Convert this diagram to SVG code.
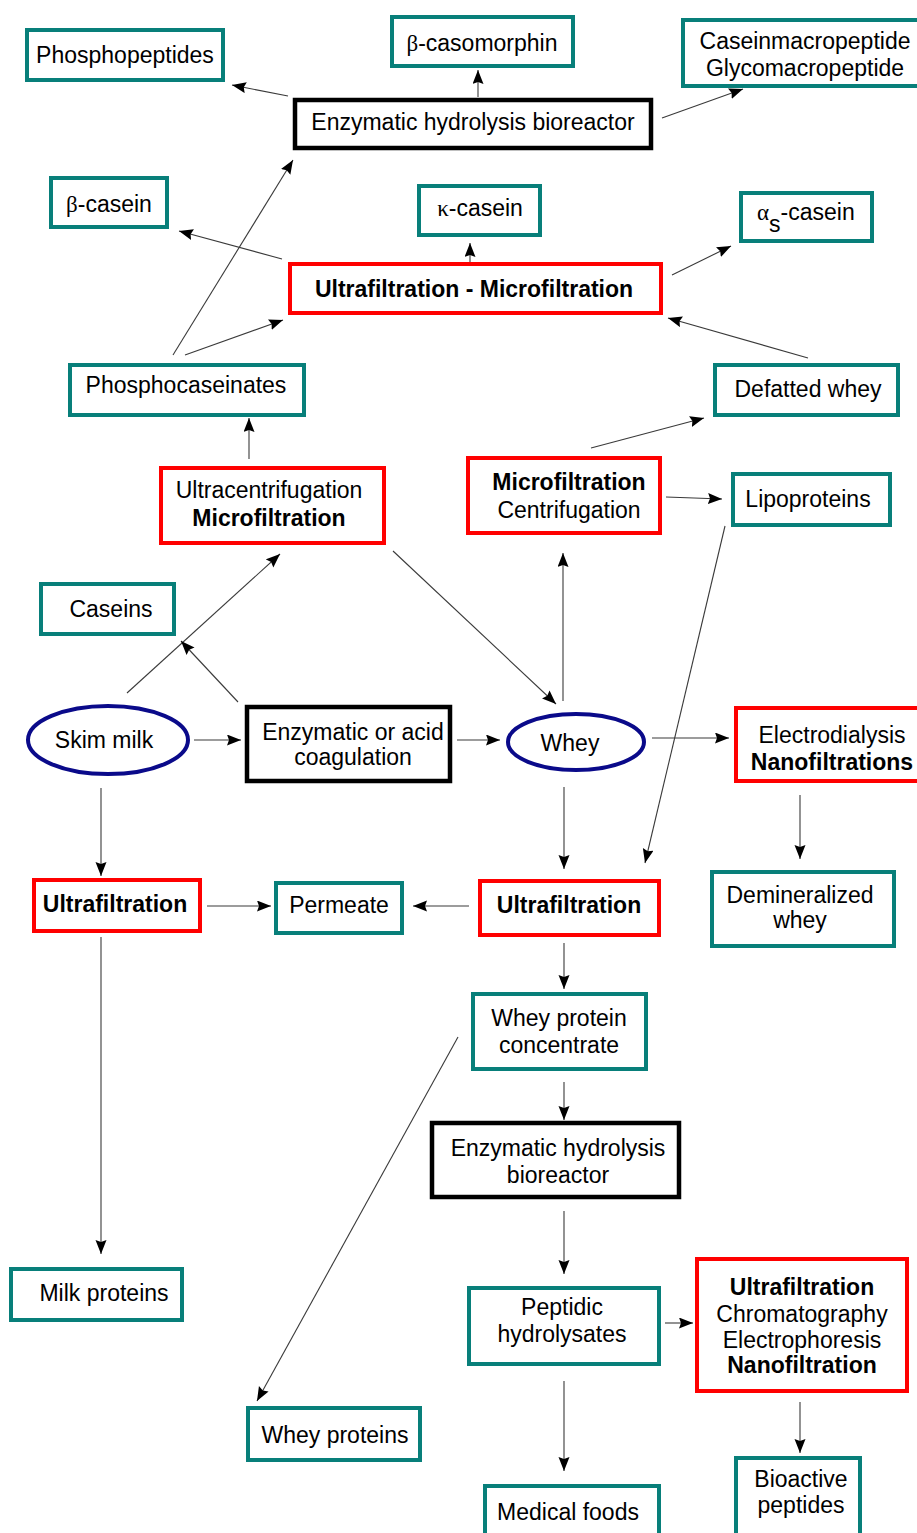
<svg xmlns="http://www.w3.org/2000/svg" width="917" height="1533" viewBox="0 0 917 1533">
<style>
text{font-family:"Liberation Sans",Arial,sans-serif;font-size:23px;fill:#000;text-anchor:middle}
.b{font-weight:bold}
.g{font-family:"Liberation Serif","Times New Roman",serif}
.teal{fill:#fff;stroke:#087f7a;stroke-width:4}
.red{fill:#fff;stroke:#ff0000;stroke-width:4}
.blk{fill:#fff;stroke:#000;stroke-width:4.5}
.ell{fill:#fff;stroke:#0a0a8a;stroke-width:4}
.c line{stroke:#3a3a3a;stroke-width:1.1;marker-end:url(#ah)}
</style>
<defs>
<marker id="ah" markerUnits="userSpaceOnUse" markerWidth="15" markerHeight="12" refX="14" refY="5.5" orient="auto">
<path d="M0,0 L14,5.5 L0,11 L2,5.5 z" fill="#000"/>
</marker>
</defs>
<rect width="917" height="1533" fill="#fff"/>

<g class="c" id="connectors">
<line x1="288" y1="96" x2="232" y2="85"/>
<line x1="478" y1="97" x2="478" y2="70"/>
<line x1="662" y1="118" x2="743" y2="89"/>
<line x1="173" y1="355" x2="293" y2="160"/>
<line x1="185" y1="355" x2="283" y2="320"/>
<line x1="282" y1="259" x2="179" y2="231"/>
<line x1="470" y1="262" x2="470" y2="243"/>
<line x1="672" y1="275" x2="731" y2="246"/>
<line x1="808" y1="358" x2="668" y2="318"/>
<line x1="249" y1="459" x2="249" y2="418"/>
<line x1="127" y1="693" x2="280" y2="554"/>
<line x1="238" y1="702" x2="181" y2="641"/>
<line x1="393" y1="551" x2="556" y2="704"/>
<line x1="563" y1="701" x2="563" y2="553"/>
<line x1="591" y1="448" x2="704" y2="418"/>
<line x1="666" y1="497" x2="722" y2="499"/>
<line x1="725" y1="526" x2="645" y2="863"/>
<line x1="194" y1="740" x2="241" y2="740"/>
<line x1="457" y1="740" x2="500" y2="740"/>
<line x1="652" y1="738" x2="729" y2="738"/>
<line x1="101" y1="788" x2="101" y2="876"/>
<line x1="207" y1="906" x2="271" y2="906"/>
<line x1="469" y1="906" x2="413" y2="906"/>
<line x1="564" y1="787" x2="564" y2="869"/>
<line x1="800" y1="795" x2="800" y2="859"/>
<line x1="564" y1="943" x2="564" y2="989"/>
<line x1="564" y1="1082" x2="564" y2="1120"/>
<line x1="458" y1="1037" x2="257" y2="1401"/>
<line x1="101" y1="937" x2="101" y2="1254"/>
<line x1="564" y1="1211" x2="564" y2="1274"/>
<line x1="665" y1="1323" x2="693" y2="1323"/>
<line x1="564" y1="1381" x2="564" y2="1471"/>
<line x1="800" y1="1402" x2="800" y2="1453"/>
</g>

<g id="phosphopeptides"><rect class="teal" x="27" y="30" width="196" height="50"/><text x="125" y="63">Phosphopeptides</text></g>
<g id="casomorphin"><rect class="teal" x="392" y="17" width="181" height="49"/><text x="482" y="51"><tspan class="g">β</tspan>-casomorphin</text></g>
<g id="caseinmacropeptide"><rect class="teal" x="683" y="20" width="240" height="66"/><text x="805" y="49">Caseinmacropeptide</text><text x="805" y="76">Glycomacropeptide</text></g>
<g id="bioreactor1"><rect class="blk" x="295" y="100" width="356" height="48"/><text x="473" y="130">Enzymatic hydrolysis bioreactor</text></g>
<g id="beta-casein"><rect class="teal" x="51" y="178" width="116" height="49"/><text x="109" y="212"><tspan class="g">β</tspan>-casein</text></g>
<g id="kappa-casein"><rect class="teal" x="419" y="186" width="121" height="49"/><text x="480" y="216"><tspan class="g">κ</tspan>-casein</text></g>
<g id="alpha-casein"><rect class="teal" x="741" y="193" width="131" height="48"/><text x="757" y="220" style="text-anchor:start"><tspan class="g">α</tspan><tspan dy="12">s</tspan><tspan dy="-12">-casein</tspan></text></g>
<g id="uf-mf"><rect class="red" x="290" y="264" width="371" height="49"/><text class="b" x="474" y="297">Ultrafiltration - Microfiltration</text></g>
<g id="phosphocaseinates"><rect class="teal" x="70" y="365" width="234" height="50"/><text x="186" y="393">Phosphocaseinates</text></g>
<g id="defatted-whey"><rect class="teal" x="715" y="365" width="183" height="50"/><text x="808" y="397">Defatted whey</text></g>
<g id="ultracentrifugation"><rect class="red" x="161" y="468" width="223" height="75"/><text x="269" y="498">Ultracentrifugation</text><text class="b" x="269" y="526">Microfiltration</text></g>
<g id="mf-centrifugation"><rect class="red" x="468" y="458" width="192" height="75"/><text class="b" x="569" y="490">Microfiltration</text><text x="569" y="518">Centrifugation</text></g>
<g id="lipoproteins"><rect class="teal" x="733" y="474" width="157" height="51"/><text x="808" y="507">Lipoproteins</text></g>
<g id="caseins"><rect class="teal" x="41" y="584" width="133" height="50"/><text x="111" y="617">Caseins</text></g>
<g id="skim-milk"><ellipse class="ell" cx="108" cy="740" rx="80" ry="34"/><text x="104" y="748">Skim milk</text></g>
<g id="coagulation"><rect class="blk" x="247" y="707" width="203" height="74"/><text x="353" y="740">Enzymatic or acid</text><text x="353" y="765">coagulation</text></g>
<g id="whey"><ellipse class="ell" cx="576" cy="742" rx="68" ry="28"/><text x="570" y="751">Whey</text></g>
<g id="electrodialysis"><rect class="red" x="736" y="708" width="185" height="73"/><text x="832" y="743">Electrodialysis</text><text class="b" x="832" y="770">Nanofiltrations</text></g>
<g id="uf-left"><rect class="red" x="34" y="880" width="166" height="51"/><text class="b" x="115" y="912">Ultrafiltration</text></g>
<g id="permeate"><rect class="teal" x="276" y="883" width="126" height="50"/><text x="339" y="913">Permeate</text></g>
<g id="uf-middle"><rect class="red" x="480" y="881" width="179" height="54"/><text class="b" x="569" y="913">Ultrafiltration</text></g>
<g id="demineralized"><rect class="teal" x="712" y="872" width="182" height="74"/><text x="800" y="903">Demineralized</text><text x="800" y="928">whey</text></g>
<g id="wpc"><rect class="teal" x="473" y="994" width="173" height="75"/><text x="559" y="1026">Whey protein</text><text x="559" y="1053">concentrate</text></g>
<g id="bioreactor2"><rect class="blk" x="432" y="1123" width="247" height="74"/><text x="558" y="1156">Enzymatic hydrolysis</text><text x="558" y="1183">bioreactor</text></g>
<g id="milk-proteins"><rect class="teal" x="11" y="1269" width="171" height="51"/><text x="104" y="1301">Milk proteins</text></g>
<g id="whey-proteins"><rect class="teal" x="248" y="1408" width="172" height="52"/><text x="335" y="1443">Whey proteins</text></g>
<g id="peptidic"><rect class="teal" x="469" y="1288" width="190" height="76"/><text x="562" y="1315">Peptidic</text><text x="562" y="1342">hydrolysates</text></g>
<g id="separation"><rect class="red" x="697" y="1259" width="210" height="132"/><text class="b" x="802" y="1295">Ultrafiltration</text><text x="802" y="1322">Chromatography</text><text x="802" y="1348">Electrophoresis</text><text class="b" x="802" y="1373">Nanofiltration</text></g>
<g id="medical-foods"><rect class="teal" x="485" y="1486" width="174" height="56"/><text x="568" y="1520">Medical foods</text></g>
<g id="bioactive"><rect class="teal" x="736" y="1458" width="124" height="78"/><text x="801" y="1487">Bioactive</text><text x="801" y="1513">peptides</text></g>
</svg>
